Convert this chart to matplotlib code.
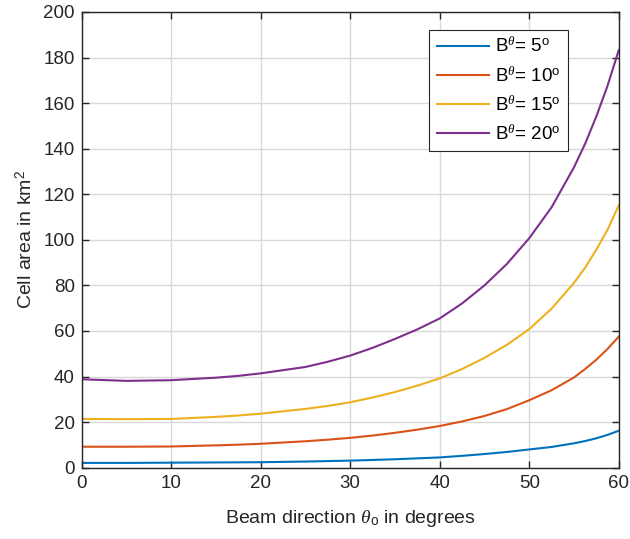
import matplotlib
matplotlib.use('Agg')
import matplotlib.pyplot as plt

plt.rcParams['font.family'] = ['Liberation Sans', 'DejaVu Sans']
plt.rcParams['mathtext.fontset'] = 'custom'
plt.rcParams['mathtext.rm'] = 'Liberation Sans'
plt.rcParams['mathtext.it'] = 'Liberation Serif:italic'

# ângulo de direção do feixe (graus)
theta = [0, 5, 10, 15, 17.5, 20, 25, 27.5, 30, 32.5, 35, 37.5, 40, 42.5, 45, 47.5,
         50, 52.5, 55, 56.25, 57.5, 58.75, 60]

# área da célula em km^2
area_5 = [2.1, 2.1, 2.2, 2.3, 2.35, 2.4, 2.7, 2.9, 3.1, 3.4, 3.7, 4.1, 4.5, 5.2, 6.0, 6.9,
          8.0, 9.1, 10.7, 11.7, 12.9, 14.4, 16.2]
area_10 = [9.2, 9.2, 9.3, 9.8, 10.1, 10.5, 11.6, 12.3, 13.1, 14.1, 15.3, 16.7, 18.3, 20.3, 22.7, 25.7,
           29.6, 34.0, 39.6, 43.3, 47.4, 52.1, 57.5]
area_15 = [21.4, 21.3, 21.4, 22.3, 22.9, 23.7, 25.8, 27.1, 28.7, 30.8, 33.2, 36.0, 39.2, 43.3, 48.2, 53.9,
           60.8, 69.8, 81.1, 87.8, 95.7, 104.4, 115.1]
area_20 = [38.8, 38.1, 38.4, 39.5, 40.3, 41.4, 44.2, 46.5, 49.2, 52.6, 56.5, 60.7, 65.5, 72.1, 80.0, 89.4,
           100.7, 114.3, 131.8, 142.2, 154.2, 167.6, 183.2]

series = [area_5, area_10, area_15, area_20]
labels = [r'B$^{\theta}$= 5$^{\mathrm{o}}$', r'B$^{\theta}$= 10$^{\mathrm{o}}$',
          r'B$^{\theta}$= 15$^{\mathrm{o}}$', r'B$^{\theta}$= 20$^{\mathrm{o}}$']
cores = ['#0072BD', '#D95319', '#EDB120', '#7E2F8E']

fig = plt.figure(figsize=(6.3, 5.39), dpi=100)
ax = fig.add_axes([0.1297, 0.1323, 0.8524, 0.8455])

for y, lab, c in zip(series, labels, cores):
    ax.plot(theta, y, color=c, lw=1.5, label=lab)

ax.set_xlim(0, 60)
ax.set_ylim(0, 200)
ax.set_xticks(range(0, 61, 10))
ax.set_yticks(range(0, 201, 20))
ax.grid(True, color='#d9d9d9', lw=1.0)
ax.set_axisbelow(True)

cinza = '#262626'
for s in ax.spines.values():
    s.set_color(cinza)
    s.set_linewidth(1.0)
ax.tick_params(direction='in', top=True, right=True, length=5, width=1.0,
               color=cinza, labelcolor=cinza, labelsize=13.5, pad=5)

ax.set_xlabel(r'Beam direction $\theta_{\mathrm{o}}$ in degrees', fontsize=14, color=cinza, labelpad=12)
ax.set_ylabel(r'Cell area in km$^2$', fontsize=14, color=cinza, labelpad=5)

leg = ax.legend(loc='upper right', bbox_to_anchor=(0.9056, 0.9614), borderaxespad=0,
                fontsize=13.5, fancybox=False, framealpha=1, edgecolor=cinza,
                handlelength=2.8, handletextpad=0.3, labelspacing=0.52, borderpad=0.4)
leg.get_frame().set_linewidth(0.8)

plt.savefig('out.png', dpi=100)
